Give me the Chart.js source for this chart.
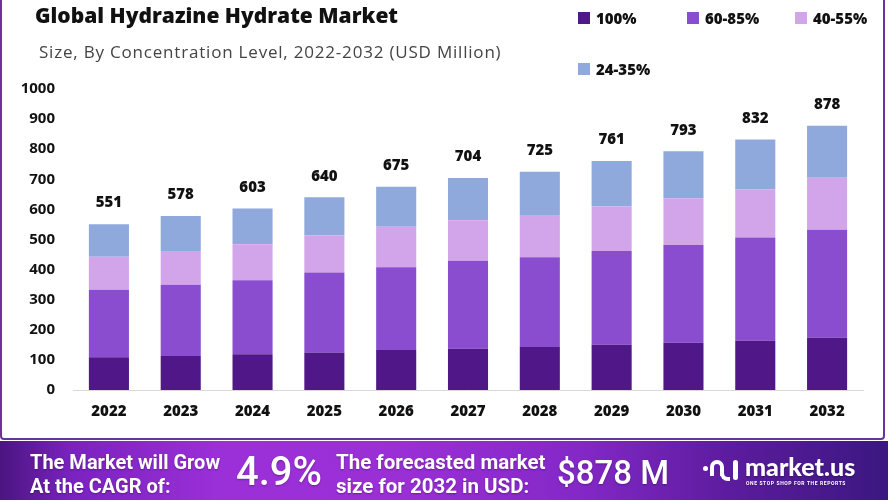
<!DOCTYPE html>
<html>
<head>
<meta charset="utf-8">
<script src="https://cdn.jsdelivr.net/npm/chart.js@4.4.1/dist/chart.umd.min.js"></script>
<style>
  html, body { margin: 0; padding: 0; background: #ffffff; }
  body { width: 888px; height: 500px; position: relative; overflow: hidden; font-family: "Open Sans", sans-serif; }
  #frame { position: absolute; left: 0; top: -6px; width: 881px; height: 442px; border: 2px solid #6b3399; border-radius: 4px; box-sizing: content-box; }
  #chartWrap { position: absolute; left: 0; top: 0; width: 888px; height: 440px; }
  #title { position: absolute; left: 35px; top: 1px; font-family: "Open Sans", sans-serif; font-weight: 800; font-size: 21px; color: #111; white-space: nowrap; }
  #subtitle { position: absolute; left: 39px; top: 40px; font-family: "Open Sans", sans-serif; font-weight: 400; font-size: 17px; letter-spacing: 0.8px; color: #444; white-space: nowrap; }
  .leg { position: absolute; font-family: "Open Sans", sans-serif; font-weight: 800; font-size: 15px; color: #111; white-space: nowrap; display: flex; align-items: center; }
  .leg span.sq { display: inline-block; width: 12px; height: 12px; margin-right: 6px; }
  #banner { position: absolute; left: 0; top: 441px; width: 888px; height: 59px;
    background: linear-gradient(90deg, #4a1580 0%, #7a22bf 8%, #9b30d8 25%, #9a2fd6 45%, #8428c8 65%, #5c1c9e 82%, #3b1780 100%); }
  .bt { position: absolute; color: #fff; font-family: Roboto, sans-serif; font-weight: 700; white-space: nowrap; text-shadow: 0 1px 2px rgba(0,0,0,0.3); }
</style>
</head>
<body>
<div id="chartWrap"><canvas id="c" width="888" height="440"></canvas></div>
<div id="frame"></div>
<div id="title">Global Hydrazine Hydrate Market</div>
<div id="subtitle">Size, By Concentration Level, 2022-2032 (USD Million)</div>
<div id="legend"></div>
<div id="banner">
  <div class="bt" style="left:30px; top:9px; font-size:20px; line-height:24px;">The Market will Grow<br>At the CAGR of:</div>
  <div class="bt" style="left:236px; top:8px; font-size:40px; font-weight:500; line-height:46px;">4.9%</div>
  <div class="bt" style="left:336px; top:9px; font-size:20.5px; line-height:24px;">The forecasted market<br>size for 2032 in USD:</div>
  <div class="bt" style="left:557px; top:11px; font-size:33px; font-weight:500; line-height:42px;">$878 M</div>
  <div style="position:absolute; left:703px; top:17px; width:38px; height:24px;">
    <div style="position:absolute; left:0; top:8px; width:5px; height:5px; border-radius:50%; background:#fff;"></div>
    <div style="position:absolute; left:7px; top:2px; width:14px; height:16px; border:4px solid #fff; border-bottom:none; border-radius:10px 10px 0 0; box-sizing:border-box;"></div>
    <div style="position:absolute; left:17px; top:10px; width:10px; height:13px; border:4px solid #fff; border-top:none; border-right:none; border-radius:0 0 0 8px; box-sizing:border-box;"></div>
    <div style="position:absolute; left:30px; top:2px; width:5px; height:20px; border-radius:3px; background:#fff;"></div>
  </div>
  <div class="bt" style="left:745px; top:12px; font-family:Lato, sans-serif; font-weight:900; font-size:25px; line-height:26px;">market.us</div>
  <div class="bt" style="left:746px; top:39px; font-size:5px; letter-spacing:0.6px; line-height:6px;">ONE STOP SHOP FOR THE REPORTS</div>
</div>
<script>
// ---- data ----
const years = ["2022","2023","2024","2025","2026","2027","2028","2029","2030","2031","2032"];
const seriesNames = ["100%", "60-85%", "40-55%", "24-35%"];
const conc100   = [109, 113, 119, 125, 133, 137, 143, 150, 157, 164, 174];
const conc60_85 = [224, 237, 246, 265, 275, 292, 298, 312, 325, 343, 358];
const conc40_55 = [110, 112, 119, 123, 134, 135, 140, 148, 155, 160, 173];
const conc24_35 = [108, 116, 119, 127, 133, 140, 144, 151, 156, 165, 173];
const totals    = [551, 578, 603, 640, 675, 704, 725, 761, 793, 832, 878];
const yTicks    = [0, 100, 200, 300, 400, 500, 600, 700, 800, 900, 1000];

const colors = ["#4f1787", "#8a4dcf", "#d2a5ea", "#8fa9dc"];
const seriesData = [conc100, conc60_85, conc40_55, conc24_35];

// legend (HTML)
const legPos = [[578, 8], [687, 8], [795, 8], [578, 59]];
const legend = document.getElementById('legend');
seriesNames.forEach((n, i) => {
  const d = document.createElement('div');
  d.className = 'leg';
  d.style.left = legPos[i][0] + 'px';
  d.style.top = legPos[i][1] + 'px';
  d.innerHTML = '<span class="sq" style="background:' + colors[i] + '"></span>' + n;
  legend.appendChild(d);
});

const totalsPlugin = {
  id: 'totals',
  afterDatasetsDraw(chart) {
    const ctx = chart.ctx;
    const meta = chart.getDatasetMeta(chart.data.datasets.length - 1);
    const y = chart.scales.y;
    ctx.save();
    ctx.font = '800 15px "Open Sans", sans-serif';
    ctx.fillStyle = '#111';
    ctx.textAlign = 'center';
    ctx.textBaseline = 'middle';
    totals.forEach((t, i) => {
      const x = meta.data[i].x;
      ctx.fillText(String(t), x, y.getPixelForValue(t) - 21);
    });
    ctx.restore();
  }
};

new Chart(document.getElementById('c'), {
  type: 'bar',
  data: {
    labels: years,
    datasets: seriesNames.map((n, i) => ({
      label: n,
      data: seriesData[i],
      backgroundColor: colors[i],
      borderWidth: 0,
      categoryPercentage: 0.62,
      barPercentage: 0.9
    }))
  },
  options: {
    responsive: false,
    animation: false,
    layout: { padding: { top: 89, right: 25, bottom: 0, left: 0 } },
    plugins: { legend: { display: false }, tooltip: { enabled: false } },
    scales: {
      x: {
        stacked: true,
        grid: { display: false, drawTicks: false },
        border: { display: true, color: '#d9d9d9', width: 1 },
        ticks: { color: '#111', font: { family: '"Open Sans", sans-serif', size: 15, weight: '800' }, padding: 13 },
        afterFit(s) { s.height = 50; }
      },
      y: {
        stacked: true,
        min: 0, max: 1000,
        afterBuildTicks(s) { s.ticks = yTicks.map(v => ({ value: v })); },
        grid: { display: false, drawTicks: false },
        border: { display: false },
        ticks: { color: '#111', font: { family: '"Open Sans", sans-serif', size: 15, weight: '700' }, padding: 18, callback: (v) => String(v) },
        afterFit(s) { s.width = 73; }
      }
    }
  },
  plugins: [totalsPlugin]
});
</script>
</body>
</html>
